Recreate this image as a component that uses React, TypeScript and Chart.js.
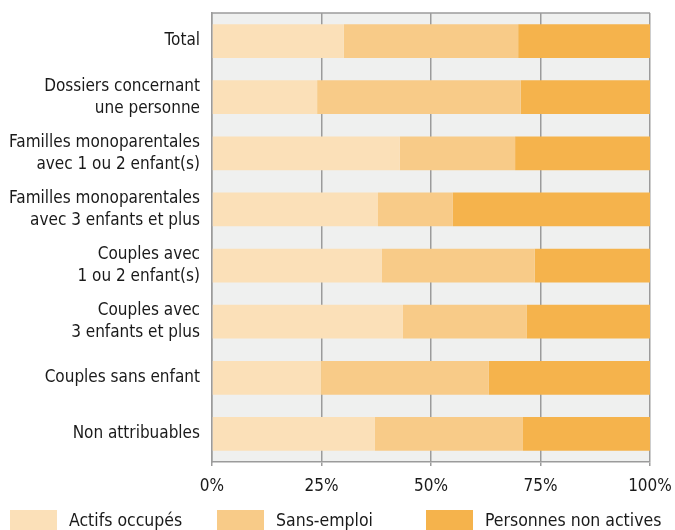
import React, { useEffect, useRef } from "react";
import { Chart, registerables } from "chart.js";

Chart.register(...registerables);

const categories: (string | string[])[] = [
  "Total",
  ["Dossiers concernant", "une personne"],
  ["Familles monoparentales", "avec 1 ou 2 enfant(s)"],
  ["Familles monoparentales", "avec 3 enfants et plus"],
  ["Couples avec", "1 ou 2 enfant(s)"],
  ["Couples avec", "3 enfants et plus"],
  "Couples sans enfant",
  "Non attribuables",
];

const actifsOccupes = [30.1, 24.0, 42.9, 37.9, 38.8, 43.6, 24.9, 37.2];
const sansEmploi = [39.8, 46.5, 26.3, 17.1, 34.9, 28.3, 38.3, 33.8];
const nonActives = [30.1, 29.5, 30.8, 45.0, 26.3, 28.1, 36.8, 29.0];

const seriesNames = ["Actifs occupés", "Sans-emploi", "Personnes non actives"];
const seriesColors = ["#fbe0b8", "#f8cb88", "#f5b34c"];
const tickValues = [0, 25, 50, 75, 100];

const FONT = "'DejaVu Sans', sans-serif";
const STRETCH = "normal condensed";
const TEXT = "#1a1a1a";
const GRID = "#9b9b9b";

const LEGEND_X = [10, 217, 426];

const framePlugin = {
  id: "frame",
  beforeDraw(chart: any) {
    const { ctx, chartArea } = chart;
    ctx.save();
    ctx.fillStyle = "#eff0ef";
    ctx.fillRect(chartArea.left, chartArea.top, chartArea.right - chartArea.left, chartArea.bottom - chartArea.top);
    ctx.restore();
  },
  afterDraw(chart: any) {
    const { ctx, chartArea } = chart;
    ctx.save();
    ctx.strokeStyle = GRID;
    ctx.lineWidth = 1.5;
    ctx.beginPath();
    ctx.moveTo(chartArea.left, chartArea.top);
    ctx.lineTo(chartArea.right, chartArea.top);
    ctx.stroke();
    // custom legend
    const ds = chart.data.datasets;
    ctx.font = `normal ${STRETCH} 17.5px ${FONT}`;
    ctx.textBaseline = "middle";
    const y = 510;
    for (let i = 0; i < ds.length; i++) {
      const x = LEGEND_X[i];
      ctx.fillStyle = ds[i].backgroundColor;
      ctx.fillRect(x, y, 47, 22);
      ctx.fillStyle = TEXT;
      ctx.fillText(ds[i].label, x + 59, y + 11);
    }
    ctx.restore();
  },
};

export default function App() {
  const ref = useRef<HTMLCanvasElement>(null);
  useEffect(() => {
    const chart = new Chart(ref.current!, {
      type: "bar",
      data: {
        labels: categories,
        datasets: [actifsOccupes, sansEmploi, nonActives].map((d, i) => ({
          label: seriesNames[i],
          data: d,
          backgroundColor: seriesColors[i],
          borderWidth: 0,
          categoryPercentage: 1,
          barPercentage: 0.6,
        })),
      },
      options: {
        indexAxis: "y",
        animation: false,
        responsive: false,
        maintainAspectRatio: false,
        layout: { padding: { top: 13, left: 0, right: 25, bottom: 0 } },
        plugins: { legend: { display: false }, tooltip: { enabled: false } },
        scales: {
          x: {
            stacked: true,
            min: 0,
            max: 100,
            afterBuildTicks(scale: any) {
              scale.ticks = tickValues.map((v) => ({ value: v }));
            },
            afterFit(scale: any) {
              scale.height = 68;
              scale.paddingLeft = 0;
              scale.paddingRight = 0;
            },
            ticks: {
              callback: (v: any) => `${v}%`,
              color: TEXT,
              font: { family: FONT, size: 17, weight: STRETCH },
              padding: 10,
              maxRotation: 0,
            },
            grid: { color: GRID, lineWidth: 1.5, tickLength: 4, tickColor: GRID },
            border: { color: GRID, width: 1.5 },
          },
          y: {
            stacked: true,
            afterFit(scale: any) {
              scale.width = 212;
              scale.paddingTop = 0;
              scale.paddingBottom = 0;
            },
            ticks: {
              color: TEXT,
              font: { family: FONT, size: 17, lineHeight: 1.3, weight: STRETCH },
              padding: 12,
            },
            grid: { display: false, drawTicks: false },
            border: { color: GRID, width: 1.5 },
          },
        },
      },
      plugins: [framePlugin],
    });
    return () => chart.destroy();
  }, []);
  return (
    <div style={{ position: "fixed", left: 0, top: 0, width: 675, height: 530, background: "#fff" }}>
      <canvas ref={ref} width={675} height={530} style={{ width: 675, height: 530 }} />
    </div>
  );
}
